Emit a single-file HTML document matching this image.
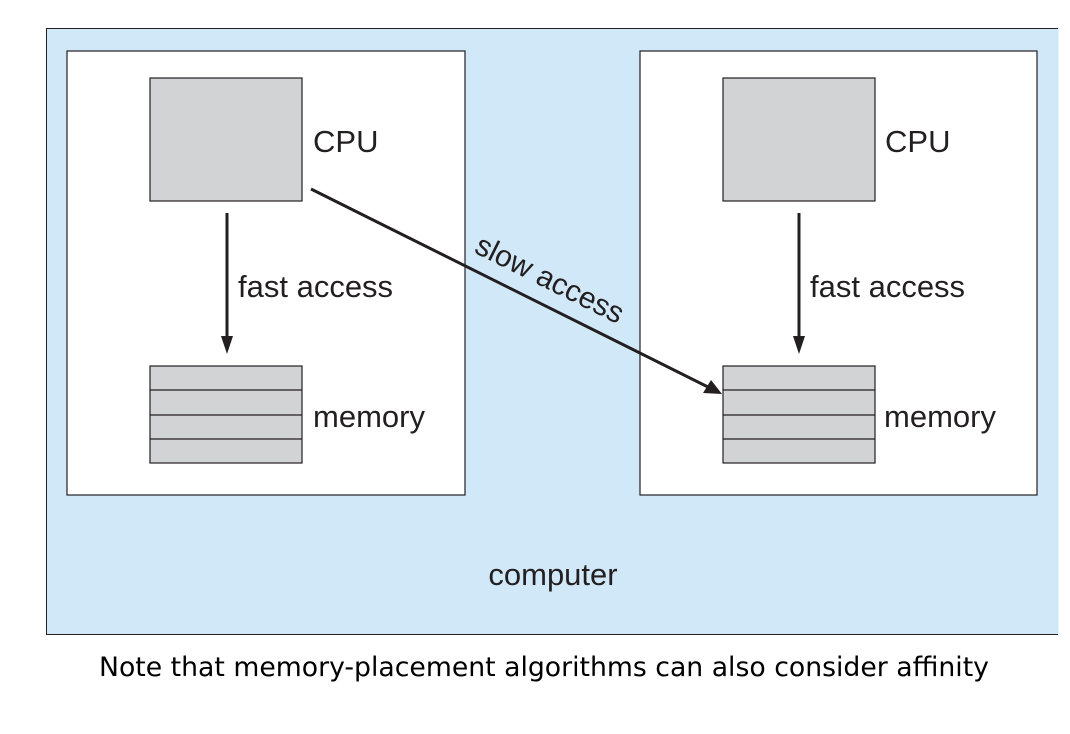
<!DOCTYPE html>
<html><head><style>
html,body{margin:0;padding:0;background:#fff;}
</style></head><body>
<svg width="1070" height="734" xmlns="http://www.w3.org/2000/svg" style="display:block">
<rect x="46.5" y="28.5" width="1012" height="606" fill="#d0e8f8"/>
<path d="M1058,28.5 H46.5 V634.5 H1058" fill="none" stroke="#231f20" stroke-width="1"/>
<rect x="67" y="51" width="398" height="444" fill="#fff" stroke="#231f20" stroke-width="1.2"/>
<rect x="640" y="51" width="397" height="444" fill="#fff" stroke="#231f20" stroke-width="1.2"/>
<g fill="#d1d3d4" stroke="#231f20" stroke-width="1.2">
<rect x="150" y="78" width="152" height="123"/>
<rect x="723" y="78" width="152" height="123"/>
<rect x="150" y="366" width="152" height="97"/>
<rect x="723" y="366" width="152" height="97"/>
</g>
<g stroke="#231f20" stroke-width="1.2">
<line x1="150" y1="390" x2="302" y2="390"/><line x1="150" y1="415" x2="302" y2="415"/><line x1="150" y1="439" x2="302" y2="439"/>
<line x1="723" y1="390" x2="875" y2="390"/><line x1="723" y1="415" x2="875" y2="415"/><line x1="723" y1="439" x2="875" y2="439"/>
</g>
<g stroke="#231f20" stroke-width="3" fill="none">
<line x1="227" y1="213" x2="227" y2="340"/>
<line x1="799" y1="213" x2="799" y2="340"/>
<line x1="311" y1="189" x2="710" y2="388"/>
</g>
<g fill="#231f20">
<path d="M221,336 L233,336 L227,354 z"/>
<path d="M793,336 L805,336 L799,354 z"/>
<path d="M722,394 L703,393 L711,380 z"/>
</g>
<g font-family="'Liberation Sans',Arial,sans-serif" font-size="31" fill="#231f20">
<text x="313" y="152">CPU</text>
<text x="885" y="152">CPU</text>
<text x="238" y="297">fast access</text>
<text x="810" y="297">fast access</text>
<text x="313" y="427">memory</text>
<text x="884" y="427">memory</text>
<text x="553" y="585" text-anchor="middle">computer</text>
<text x="473" y="252" transform="rotate(26.5 473 252)" font-size="30">slow access</text>
</g>
<text x="544" y="676" text-anchor="middle" font-family="'DejaVu Sans',Verdana,sans-serif" font-size="26.7" fill="#000">Note that memory-placement algorithms can also consider affinity</text>
</svg>
</body></html>
